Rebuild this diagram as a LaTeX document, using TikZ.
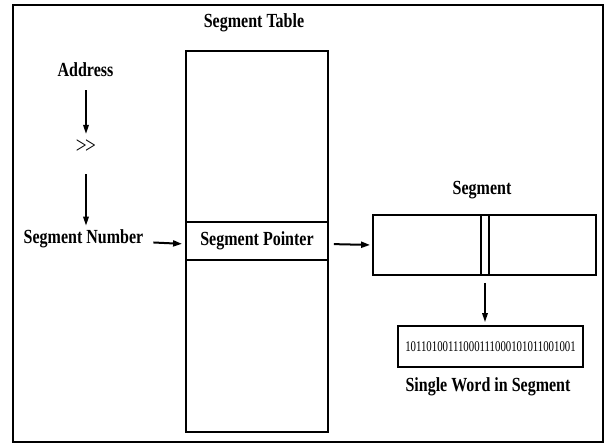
\documentclass[tikz,border=0pt]{standalone}
\usepackage{fontspec}
\setmainfont{Liberation Serif}
\usetikzlibrary{arrows.meta}
\newcommand\cnd[1]{\scalebox{0.8}[1]{#1}}
\begin{document}
\begin{tikzpicture}[x=1pt,y=-1pt,
  lbl/.style={font=\fontsize{20}{22}\selectfont\bfseries, inner sep=0pt},
  box/.style={draw, line width=1.8pt, inner sep=0pt},
  arr/.style={line width=1.6pt, -{Triangle[length=9pt,width=5.5pt]}},
  harr/.style={line width=2pt, -{Triangle[length=9pt,width=6pt]}}]
\useasboundingbox (0,0) rectangle (608,445);
\draw[line width=1.8pt] (13,5) rectangle (603,442);
% segment table
\node[box, minimum width=142pt, minimum height=381pt] (tab) at (257,241.5) {};
\node[lbl] (tabl) at (254,23) {\cnd{Segment Table}};
\node[box, minimum width=142pt, minimum height=38pt, lbl, draw] (ptr) at (257,241) {\raisebox{3pt}{\cnd{Segment Pointer}}};
% left column
\node[lbl] (addr) at (85.5,70) {\cnd{Address}};
\node[font=\fontsize{24}{26}\selectfont, inner sep=0pt] (shr) at (86,147) {\cnd{{>}\kern-2pt{>}}};
\node[lbl] (sn) at (83.5,239) {\cnd{Segment Number}};
\draw[arr, shorten <=13pt, shorten >=6pt] (shr.north |- addr.south) -- (shr.north);
\draw[arr, shorten <=20pt, shorten >=4pt] (shr.south) -- (shr.south |- sn.north);
\draw[harr, shorten <=10pt, shorten >=3pt] ([yshift=-3pt]sn.east) -- ([yshift=-3pt]ptr.west);
% segment
\node[lbl] (segl) at (482,190) {\cnd{Segment}};
\node[box, minimum width=223pt, minimum height=60pt] (seg) at (484.5,245) {};
\node[box, minimum width=8pt, minimum height=60pt] (slot) at (485,245) {};
\draw[harr, shorten <=5pt, shorten >=2pt] ([yshift=-3pt]ptr.east) -- (seg.west);
% word
\node[box, minimum width=185pt, minimum height=41pt] (word) at (490.5,346.5) {};
\node[font=\fontsize{14.8}{16}\selectfont, inner sep=0pt] (bits) at (word.center) {\scalebox{0.73}[1]{10110100111000111000101011001001}};
\node[lbl] (wl) at (488,387) {\cnd{Single Word in Segment}};
\draw[arr, shorten <=7pt, shorten >=3pt] (slot.south) -- (slot.south |- word.north);
\end{tikzpicture}
\end{document}
